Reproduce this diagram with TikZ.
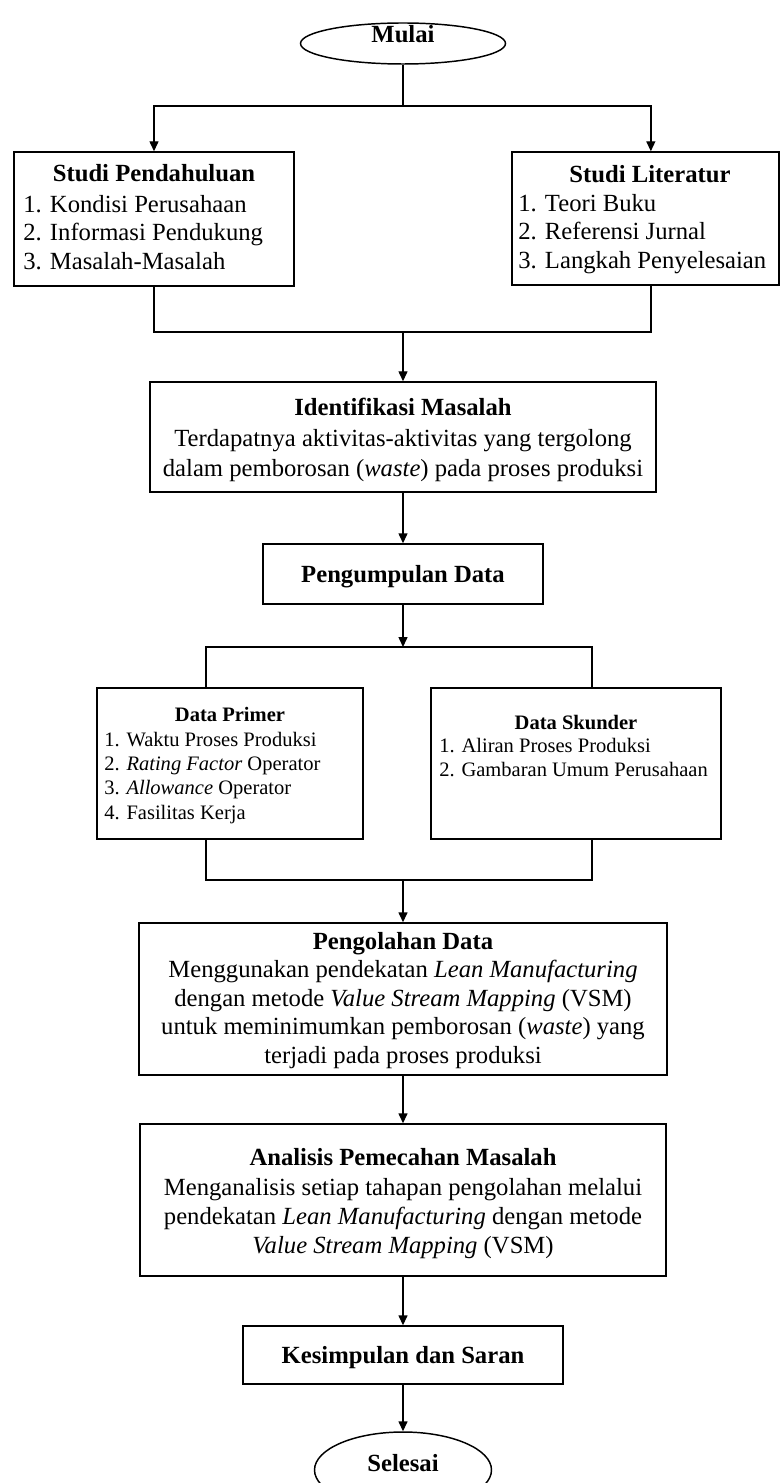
\documentclass[tikz,border=0pt]{standalone}
\usepackage{fontspec}
\setmainfont{Liberation Serif}
\usetikzlibrary{arrows.meta,shapes.geometric}

\tikzset{
  frame/.style={draw, line width=1.1pt, rectangle, inner sep=0pt},
  oval/.style={draw, line width=1.1pt, ellipse, inner sep=0pt},
  big/.style={inner sep=0pt, font=\fontsize{18.5}{22}\selectfont},
  small/.style={inner sep=0pt, font=\fontsize{15.4}{18}\selectfont},
  link/.style={line width=1.1pt},
  arr/.style={link, -{Triangle[length=7.5pt,width=6.75pt]}},
}

\begin{document}
\begin{tikzpicture}[x=0.75pt,y=-0.75pt]
\useasboundingbox (0,0) rectangle (781,1483);
\fill[white] (0,0) rectangle (781,1483);

% start terminal
\node[oval, minimum width=153.75pt, minimum height=30.75pt] (mulai) at (403,43.5) {};
\node[big, anchor=base] (mulaiT) at (403,42.7) {\textbf{Mulai}};

% preliminary study
\node[frame, minimum width=210pt, minimum height=100.5pt] (sp) at (154,219) {};
\node[big, anchor=base] (spT) at (154,182) {\textbf{Studi Pendahuluan}};
\node[big, anchor=base west] (sp1) at (23,212.7) {1. Kondisi Perusahaan};
\node[big, anchor=base west] (sp2) at (23,241) {2. Informasi Pendukung};
\node[big, anchor=base west] (sp3) at (23,269.3) {3. Masalah-Masalah};

% literature study
\node[frame, minimum width=200.25pt, minimum height=99.75pt] (sl) at (645.5,218.5) {};
\node[big, anchor=base] (slT) at (650,182.7) {\textbf{Studi Literatur}};
\node[big, anchor=base west] (sl1) at (518,211.7) {1. Teori Buku};
\node[big, anchor=base west] (sl2) at (518,240) {2. Referensi Jurnal};
\node[big, anchor=base west] (sl3) at (518,268.3) {3. Langkah Penyelesaian};

% problem identification
\node[frame, minimum width=379.5pt, minimum height=82.5pt] (ident) at (403,437) {};
\node[big, anchor=base] (identT) at (403,416) {\textbf{Identifikasi Masalah}};
\node[big, anchor=base] (ident1) at (403,446) {Terdapatnya aktivitas-aktivitas yang tergolong};
\node[big, anchor=base] (ident2) at (403,476) {dalam pemborosan (\textit{waste}) pada proses produksi};

% data collection
\node[frame, minimum width=210pt, minimum height=45pt] (peng) at (403,574) {};
\node[big, anchor=base] (pengT) at (403,582.7) {\textbf{Pengumpulan Data}};

% primary data
\node[frame, minimum width=199.5pt, minimum height=113.25pt] (primer) at (230,763.5) {};
\node[small, anchor=base] (primerT) at (230,721.7) {\textbf{Data Primer}};
\node[small, anchor=base west] (primer1) at (104,746) {1. Waktu Proses Produksi};
\node[small, anchor=base west] (primer2) at (104,770.3) {2. \textit{Rating Factor} Operator};
\node[small, anchor=base west] (primer3) at (104,794.7) {3. \textit{Allowance} Operator};
\node[small, anchor=base west] (primer4) at (104,819.3) {4. Fasilitas Kerja};

% secondary data
\node[frame, minimum width=217.5pt, minimum height=113.25pt] (skunder) at (576,763.5) {};
\node[small, anchor=base] (skunderT) at (576,729.3) {\textbf{Data Skunder}};
\node[small, anchor=base west] (skunder1) at (439,752.7) {1. Aliran Proses Produksi};
\node[small, anchor=base west] (skunder2) at (439,776.7) {2. Gambaran Umum Perusahaan};

% data processing
\node[frame, minimum width=396pt, minimum height=114pt] (olah) at (403,999) {};
\node[big, anchor=base] (olahT) at (403,949) {\textbf{Pengolahan Data}};
\node[big, anchor=base] (olah1) at (403,977.5) {Menggunakan pendekatan \textit{Lean Manufacturing}};
\node[big, anchor=base] (olah2) at (403,1006) {dengan metode \textit{Value Stream Mapping} (VSM)};
\node[big, anchor=base] (olah3) at (403,1034.5) {untuk meminimumkan pemborosan (\textit{waste}) yang};
\node[big, anchor=base] (olah4) at (403,1063) {terjadi pada proses produksi};

% analysis
\node[frame, minimum width=394.5pt, minimum height=114pt] (anal) at (403,1200) {};
\node[big, anchor=base] (analT) at (403,1165.5) {\textbf{Analisis Pemecahan Masalah}};
\node[big, anchor=base] (anal1) at (403,1195) {Menganalisis setiap tahapan pengolahan melalui};
\node[big, anchor=base] (anal2) at (403,1224) {pendekatan \textit{Lean Manufacturing} dengan metode};
\node[big, anchor=base] (anal3) at (403,1253.3) {\textit{Value Stream Mapping} (VSM)};

% conclusion
\node[frame, minimum width=240pt, minimum height=43.5pt] (kes) at (403,1355) {};
\node[big, anchor=base] (kesT) at (403,1363.3) {\textbf{Kesimpulan dan Saran}};

% end terminal, running off the lower edge
\begin{scope}
\clip (0,0) rectangle (781,1483);
\node[oval, minimum width=132.75pt, minimum height=57pt] (selesai) at (403,1470) {};
\end{scope}
\node[big, anchor=base] (selesaiT) at (403,1471.7) {\textbf{Selesai}};

% connectors
\coordinate (j1) at (403,106);
\coordinate (j2) at (403,332);
\coordinate (j3) at (403,647);
\coordinate (j4) at (403,880);

\draw[link] (mulai.south) -- (j1);
\draw[arr] (j1) -| (sp.north);
\draw[arr] (j1) -| ([xshift=4pt]sl.north);
\draw[link] (sp.south) |- (j2);
\draw[link] ([xshift=4pt]sl.south) |- (j2);
\draw[arr] (j2) -- (ident.north);
\draw[arr] (ident.south) -- (peng.north);
\draw[arr] (peng.south) -- (j3);
\draw[link] ([xshift=-18pt]primer.north) |- (j3);
\draw[link] ([xshift=12pt]skunder.north) |- (j3);
\draw[link] ([xshift=-18pt]primer.south) |- (j4);
\draw[link] ([xshift=12pt]skunder.south) |- (j4);
\draw[arr] (j4) -- (olah.north);
\draw[arr] (olah.south) -- (anal.north);
\draw[arr] (anal.south) -- (kes.north);
\draw[arr] (kes.south) -- (selesai.north);
\end{tikzpicture}
\end{document}
